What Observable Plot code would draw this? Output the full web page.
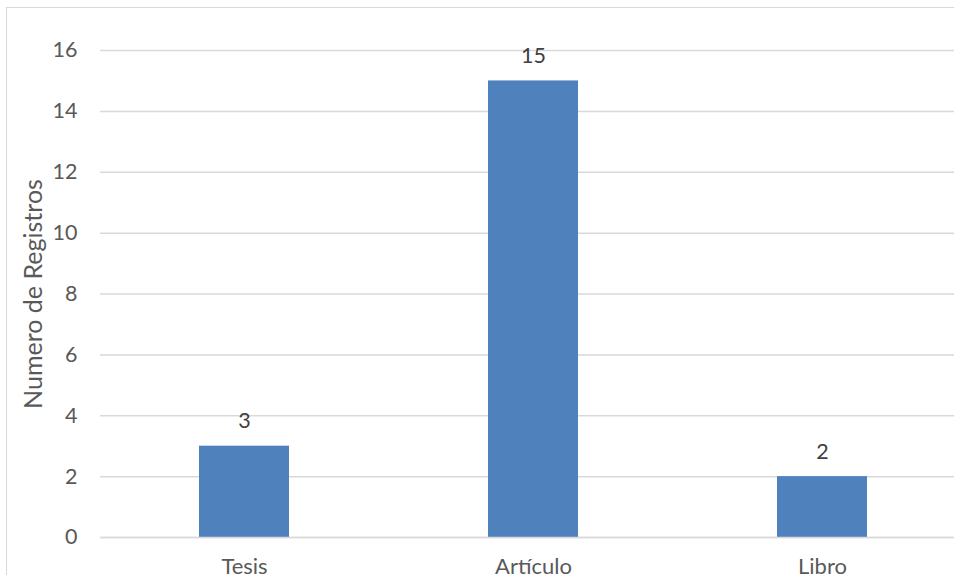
<!DOCTYPE html>
<html>
<head>
<meta charset="utf-8">
<script src="https://cdn.jsdelivr.net/npm/d3@7"></script>
<script src="https://cdn.jsdelivr.net/npm/@observablehq/plot@0.6"></script>
<style>
  html, body { margin: 0; padding: 0; background: #fff; overflow: hidden; }
  #wrap { position: relative; width: 954px; height: 575px; overflow: hidden; }
  #frame { position: absolute; left: 6px; top: 7px; width: 1000px; height: 620px; border: 1.5px solid #d9d9d9; box-sizing: border-box; }
  #chart { position: absolute; left: 0; top: 0; }
</style>
</head>
<body>
<div id="wrap"><div id="frame"></div><div id="chart"></div></div>
<script>
const categories = ["Tesis", "Artículo", "Libro"];
const values = [3, 15, 2];
const yTicks = [0, 2, 4, 6, 8, 10, 12, 14, 16];
const yLabel = "Numero de Registros";

const data = categories.map((c, i) => ({category: c, value: values[i]}));
const font = "Lato, 'Open Sans', sans-serif";

const chart = Plot.plot({
  width: 954,
  height: 575,
  marginTop: 50,
  marginBottom: 38,
  marginLeft: 100,
  marginRight: 0,
  style: {fontFamily: font, fontSize: "22px", background: "transparent", overflow: "visible"},
  x: {domain: categories, range: [99.5, 966.5], paddingInner: 0.69, paddingOuter: 0.345, align: 0.5},
  y: {domain: [0, 16]},
  marks: [
    Plot.gridY(yTicks, {stroke: "#d9d9d9", strokeOpacity: 1, strokeWidth: 1.5}),
    Plot.barY(data, {x: "category", y: "value", fill: "#4f81bd"}),
    Plot.ruleY([0], {stroke: "#d9d9d9", strokeWidth: 1.5}),
    Plot.axisY(yTicks, {tickSize: 0, tickPadding: 23, label: null, color: "#595959", fontSize: 21.5}),
    Plot.axisX({tickSize: 0, tickPadding: 21, label: null, color: "#595959", fontSize: 22}),
    Plot.text(data, {x: "category", y: "value", text: d => String(d.value), lineAnchor: "bottom", dy: -18, fill: "#404040", fontSize: 21.5}),
    Plot.text([yLabel], {frameAnchor: "left", textAnchor: "middle", text: d => d, rotate: -90, dx: -67, fill: "#595959", fontSize: 25})
  ]
});
document.getElementById("chart").appendChild(chart);
</script>
</body>
</html>
